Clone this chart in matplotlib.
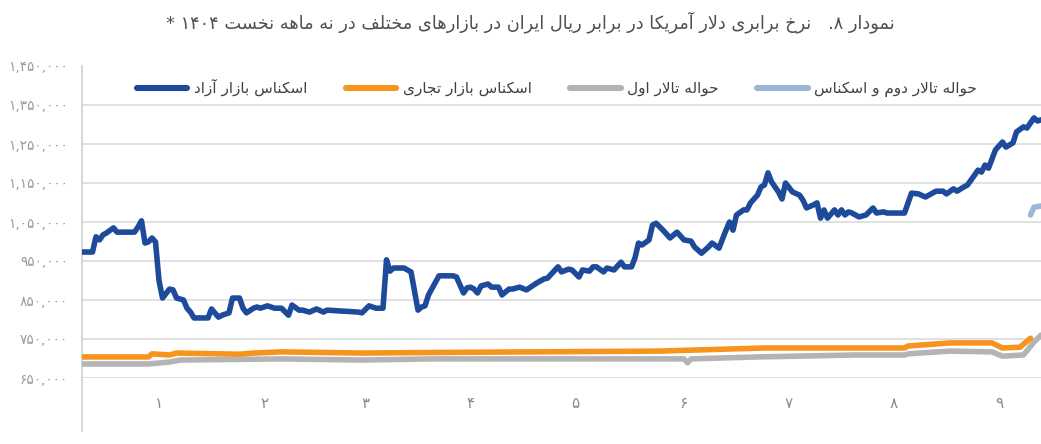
import re
import numpy as np
import matplotlib
matplotlib.use("Agg")
import matplotlib.pyplot as plt

plt.rcParams['font.family'] = ['DejaVu Sans']

# day of the nine months, rial per dollar (thousands)
blue = [(0, 973), (3, 973), (4, 1012), (5, 1004), (6, 1017), (7, 1022), (9, 1035), (10, 1024),
        (15, 1024), (16, 1037), (17, 1053), (18, 996), (19, 999), (20, 1009), (21, 999), (22, 900),
        (23, 855), (25, 878), (26, 876), (27, 855), (29, 850), (30, 829), (31, 819), (32, 804),
        (36, 804), (37, 827), (39, 806), (40, 811), (42, 817), (43, 855), (45, 855), (46, 829),
        (47, 817), (49, 829), (50, 832), (51, 829), (53, 835), (55, 829), (57, 829), (59, 811),
        (60, 837), (62, 824), (63, 824), (65, 819), (67, 827), (69, 819), (70, 824), (79, 819),
        (80, 817), (82, 835), (84, 829), (86, 829), (87, 953), (88, 924), (89, 932), (92, 932),
        (94, 922), (96, 824), (97, 832), (98, 835), (99, 863), (101, 896), (102, 912), (106, 912),
        (107, 909), (109, 868), (110, 881), (111, 883), (112, 878), (113, 868), (114, 886),
        (116, 891), (117, 883), (119, 883), (120, 863), (122, 878), (123, 878), (125, 883),
        (127, 876), (129, 888), (130, 894), (132, 904), (133, 906), (136, 935), (137, 922),
        (139, 929), (140, 927), (142, 909), (143, 927), (145, 924), (146, 935), (147, 935),
        (149, 922), (150, 932), (152, 927), (154, 947), (155, 935), (157, 935), (158, 958),
        (159, 996), (160, 991), (162, 1004), (163, 1042), (164, 1047), (166, 1029), (168, 1009),
        (170, 1024), (172, 1004), (174, 1001), (175, 986), (177, 970), (179, 986), (180, 996),
        (182, 983), (184, 1029), (185, 1050), (186, 1029), (187, 1068), (189, 1081), (190, 1081),
        (191, 1099), (193, 1119), (194, 1140), (195, 1145), (196, 1176), (197, 1153), (199, 1127),
        (200, 1109), (201, 1150), (203, 1127), (205, 1119), (206, 1106), (207, 1086), (209, 1094),
        (210, 1099), (211, 1060), (212, 1081), (213, 1060), (215, 1081), (216, 1068), (217, 1081),
        (218, 1068), (219, 1076), (220, 1073), (222, 1063), (224, 1068), (226, 1086), (227, 1073),
        (229, 1076), (230, 1073), (235, 1073), (237, 1124), (239, 1122), (241, 1114), (242, 1119),
        (244, 1129), (246, 1129), (247, 1122), (249, 1135), (250, 1129), (252, 1140), (253, 1145),
        (255, 1170), (256, 1183), (257, 1178), (258, 1196), (259, 1188), (261, 1235), (263, 1255),
        (264, 1242), (266, 1253), (267, 1281), (269, 1294), (270, 1291), (272, 1317), (273, 1309),
        (274, 1312)]
orange = [(0, 704), (19, 704), (20, 712), (25, 709), (27, 714), (45, 711), (49, 714), (57, 717),
          (80, 714), (110, 716), (165, 719), (195, 727), (235, 727), (236, 732), (248, 740),
          (260, 740), (263, 727), (268, 729), (271, 752)]
gray = [(0, 686), (19, 686), (25, 691), (28, 696), (57, 699), (80, 696), (100, 699), (172, 699),
        (173, 689), (174, 699), (193, 704), (221, 709), (235, 709), (236, 712), (248, 719),
        (260, 717), (263, 706), (269, 709), (272, 742), (274, 760)]
lightblue = [(271, 1068), (272, 1088), (274, 1091)]

month_pos = [22, 52, 81, 111, 141, 172, 202, 232, 262]
month_lab = ['۱', '۲', '۳', '۴', '۵', '۶', '۷', '۸', '۹']
yticks = [650000, 750000, 850000, 950000, 1050000, 1150000, 1250000, 1350000, 1450000]

names = ['اسکناس بازار آزاد', 'اسکناس بازار تجاری', 'حواله تالار اول', 'حواله تالار دوم و اسکناس']
title = 'نمودار ۸.   نرخ برابری دلار آمریکا در برابر ریال ایران در بازارهای مختلف در نه ماهه نخست ۱۴۰۴ *'

# crude persian shaping (no raqm in matplotlib)
FORMS = {
    'ا': (0xFE8D, 0xFE8E, None, None), 'آ': (0xFE81, 0xFE82, None, None),
    'ب': (0xFE8F, 0xFE90, 0xFE91, 0xFE92), 'ت': (0xFE95, 0xFE96, 0xFE97, 0xFE98),
    'ج': (0xFE9D, 0xFE9E, 0xFE9F, 0xFEA0), 'ح': (0xFEA1, 0xFEA2, 0xFEA3, 0xFEA4),
    'خ': (0xFEA5, 0xFEA6, 0xFEA7, 0xFEA8), 'د': (0xFEA9, 0xFEAA, None, None),
    'ر': (0xFEAD, 0xFEAE, None, None), 'ز': (0xFEAF, 0xFEB0, None, None),
    'س': (0xFEB1, 0xFEB2, 0xFEB3, 0xFEB4), 'ف': (0xFED1, 0xFED2, 0xFED3, 0xFED4),
    'ل': (0xFEDD, 0xFEDE, 0xFEDF, 0xFEE0), 'م': (0xFEE1, 0xFEE2, 0xFEE3, 0xFEE4),
    'ن': (0xFEE5, 0xFEE6, 0xFEE7, 0xFEE8), 'ه': (0xFEE9, 0xFEEA, 0xFEEB, 0xFEEC),
    'و': (0xFEED, 0xFEEE, None, None), 'ک': (0xFB8E, 0xFB8F, 0xFB90, 0xFB91),
    'ی': (0xFBFC, 0xFBFD, 0xFBFE, 0xFBFF),
    'لا': (0xFEFB, 0xFEFC, None, None), 'لآ': (0xFEF5, 0xFEF6, None, None),
}


def fa(s):
    chars = []
    i = 0
    while i < len(s):
        if s[i] == 'ل' and i + 1 < len(s) and s[i + 1] in 'اآ':
            chars.append(s[i:i + 2])
            i += 2
        else:
            chars.append(s[i])
            i += 1
    out = []
    for k, c in enumerate(chars):
        f = FORMS.get(c)
        if f is None:
            out.append(c)
            continue
        p = FORMS.get(chars[k - 1]) if k > 0 else None
        n = chars[k + 1] if k + 1 < len(chars) else None
        jp = p is not None and p[2] is not None
        jn = f[2] is not None and n in FORMS
        if jp and jn:
            out.append(chr(f[3]))
        elif jp:
            out.append(chr(f[1]))
        elif jn:
            out.append(chr(f[2]))
        else:
            out.append(chr(f[0]))
    vis = ''.join(out)[::-1]
    return re.sub(r'[۰-۹0-9]+', lambda m: m.group()[::-1], vis)


def fa_num(v):
    return f'{v:,}'.translate(str.maketrans('0123456789', '۰۱۲۳۴۵۶۷۸۹'))


fig = plt.figure(figsize=(10.41, 4.44), dpi=100)
ax = fig.add_axes([82 / 1041, 1 - 378 / 444, 959 / 1041, 312 / 444])

cols = ['#1d4a9a', '#f7941d', '#b4b4b4', '#9db6d8']
series = [blue, orange, gray, lightblue]
zs = [5, 4, 3, 4]
handles = []
for data, c, z, nm in zip(series, cols, zs, names):
    d = np.array(data, dtype=float)
    h, = ax.plot(d[:, 0], d[:, 1] * 1000, color=c, lw=4.0, zorder=z,
                 solid_joinstyle='round', solid_capstyle='round', label=fa(nm))
    handles.append(h)

ax.set_xlim(0, 274)
ax.set_ylim(650000, 1450000)
ax.set_yticks(yticks)
ax.set_yticklabels([fa_num(v) for v in yticks])
ax.set_xticks(month_pos)
ax.set_xticklabels(month_lab)
ax.tick_params(axis='y', length=0, pad=10, labelsize=9.8, labelcolor='#9a9a9a')
ax.tick_params(axis='x', length=0, pad=13, labelsize=11, labelcolor='#8a8a8a')
ax.grid(axis='y', color='#dcdcdc', lw=1.2)
ax.yaxis.get_gridlines()[-1].set_visible(False)
ax.set_axisbelow(True)
for s in ax.spines.values():
    s.set_visible(False)
ax.plot([0, 0], [-0.17, 1], transform=ax.transAxes, color='#d0d0d0', lw=1.2, clip_on=False)

leg = ax.legend(handles=handles, ncol=4, loc='center', bbox_to_anchor=(557 / 1041, 1 - 88 / 444),
                bbox_transform=fig.transFigure, frameon=False, fontsize=11, handlelength=3.3,
                handletextpad=0.45, columnspacing=2.5, labelcolor='#404040')
for ln in leg.get_lines():
    ln.set_linewidth(4.4)

fig.text(530 / 1041, 1 - 22 / 444, fa(title), ha='center', va='center', fontsize=12.8, color='#505050')

fig.savefig('out.png', dpi=100, facecolor='white')
